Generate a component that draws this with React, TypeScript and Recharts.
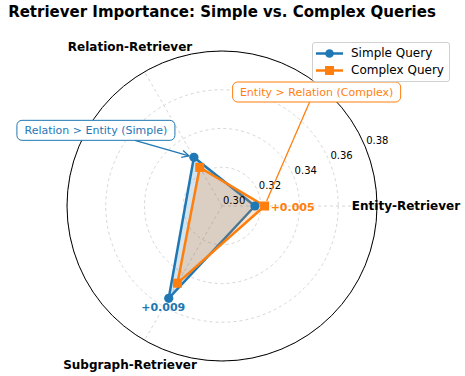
import React from 'react';
import {
  Legend,
  PolarAngleAxis,
  PolarGrid,
  PolarRadiusAxis,
  Radar,
  RadarChart,
} from 'recharts';

// listed in drawing order: Entity at 0°, then Subgraph, then Relation (clockwise)
const categories = ['Entity-Retriever', 'Subgraph-Retriever', 'Relation-Retriever'];
const simpleQuery = [0.317, 0.355, 0.329];
const complexQuery = [0.322, 0.346, 0.323];
const radiusTicks = [0.3, 0.32, 0.34, 0.36, 0.38];
const seriesNames = ['Simple Query', 'Complex Query'];

const BLUE = '#1f77b4';
const ORANGE = '#ff7f0e';
const FONT = '"DejaVu Sans", sans-serif';

// radius axis starts at 0.30 -> plot the amount above that baseline
const BASE = radiusTicks[0];
const data = categories.map((category, i) => ({
  category,
  simple: simpleQuery[i] - BASE,
  complex: complexQuery[i] - BASE,
}));

const idx = (name: string) => categories.indexOf(name);

// small arrowhead pointing from (x1,y1) to (x2,y2)
const arrowHead = (x1: number, y1: number, x2: number, y2: number, color: string) => {
  const a = Math.atan2(y2 - y1, x2 - x1);
  const len = 7;
  const w = 3.5;
  const bx = x2 - len * Math.cos(a);
  const by = y2 - len * Math.sin(a);
  const px = -Math.sin(a) * w;
  const py = Math.cos(a) * w;
  return (
    <polyline
      points={`${bx + px},${by + py} ${x2},${y2} ${bx - px},${by - py}`}
      fill="none"
      stroke={color}
      strokeWidth={1.3}
    />
  );
};

const SimpleDot = (props: any) => {
  const { cx, cy, index } = props;
  const name = categories[index];
  const sg = idx('Subgraph-Retriever');
  return (
    <g key={`simple-${index}`}>
      <circle cx={cx} cy={cy} r={4.6} fill={BLUE} />
      {name === 'Relation-Retriever' && (
        <g>
          <line x1={cx - 59} y1={cy - 17} x2={cx - 5} y2={cy - 1.5} stroke={BLUE} strokeWidth={1.3} />
          {arrowHead(cx - 59, cy - 17, cx - 5, cy - 1.5, BLUE)}
          <rect x={cx - 177} y={cy - 37} width={158} height={20} rx={5} fill="#fff" stroke={BLUE} strokeWidth={1} />
          <text
            x={cx - 98}
            y={cy - 27}
            textAnchor="middle"
            dominantBaseline="central"
            fontSize={11}
            fontFamily={FONT}
            fill={BLUE}
          >
            Relation &gt; Entity (Simple)
          </text>
        </g>
      )}
      {name === 'Subgraph-Retriever' && (
        <text
          x={cx - 5.5}
          y={cy + 9}
          textAnchor="middle"
          dominantBaseline="central"
          fontSize={11}
          fontWeight="bold"
          fontFamily={FONT}
          fill={BLUE}
        >
          +{(simpleQuery[sg] - complexQuery[sg]).toFixed(3)}
        </text>
      )}
    </g>
  );
};

const ComplexDot = (props: any) => {
  const { cx, cy, index } = props;
  const name = categories[index];
  const en = idx('Entity-Retriever');
  return (
    <g key={`complex-${index}`}>
      {name === 'Entity-Retriever' && (
        <g>
          <line x1={cx + 45} y1={cy - 104} x2={cx + 2} y2={cy - 5} stroke={ORANGE} strokeWidth={1.3} />
          <rect x={cx - 32} y={cy - 124} width={168} height={20} rx={5} fill="#fff" stroke={ORANGE} strokeWidth={1} />
          <text
            x={cx + 52}
            y={cy - 114}
            textAnchor="middle"
            dominantBaseline="central"
            fontSize={11}
            fontFamily={FONT}
            fill={ORANGE}
          >
            Entity &gt; Relation (Complex)
          </text>
        </g>
      )}
      <rect x={cx - 4.5} y={cy - 4.5} width={9} height={9} fill={ORANGE} />
      {name === 'Entity-Retriever' && (
        <text
          x={cx + 6}
          y={cy + 1}
          textAnchor="start"
          dominantBaseline="central"
          fontSize={11}
          fontWeight="bold"
          fontFamily={FONT}
          fill={ORANGE}
        >
          +{(complexQuery[en] - simpleQuery[en]).toFixed(3)}
        </text>
      )}
    </g>
  );
};

const AngleTick = (props: any) => {
  const { x, y, payload } = props;
  const cx = props.cx ?? 222;
  const cy = props.cy ?? 206;
  const dx = x - cx;
  const dy = y - cy;
  const d = Math.sqrt(dx * dx + dy * dy) || 1;
  const r = 184;
  return (
    <text
      x={cx + (dx / d) * r}
      y={cy + (dy / d) * r}
      textAnchor="middle"
      dominantBaseline="central"
      fontSize={12}
      fontWeight="bold"
      fontFamily={FONT}
      fill="#000"
    >
      {payload.value}
    </text>
  );
};

const RadiusTick = (props: any) => {
  const { x, y, payload } = props;
  return (
    <text
      x={x + 1}
      y={y - 6}
      textAnchor="start"
      dominantBaseline="central"
      fontSize={10}
      fontFamily={FONT}
      fill="#000"
    >
      {(Number(payload.value) + BASE).toFixed(2)}
    </text>
  );
};

const LegendBox = () => (
  <div
    style={{
      display: 'inline-block',
      border: '1px solid #d0d0d0',
      borderRadius: 3,
      background: 'rgba(255,255,255,0.8)',
      padding: '2px 5px 2px 3px',
      fontFamily: FONT,
      fontSize: 12,
      color: '#000',
      lineHeight: '17px',
      whiteSpace: 'nowrap',
    }}
  >
    {seriesNames.map((name, i) => (
      <div key={name} style={{ display: 'flex', alignItems: 'center' }}>
        <svg width={30} height={17}>
          <line x1={0} y1={8.5} x2={27} y2={8.5} stroke={i === 0 ? BLUE : ORANGE} strokeWidth={2.5} />
          {i === 0 ? (
            <circle cx={13.5} cy={8.5} r={4.3} fill={BLUE} />
          ) : (
            <rect x={9} y={4} width={9} height={9} fill={ORANGE} />
          )}
        </svg>
        <span style={{ marginLeft: 5 }}>{name}</span>
      </div>
    ))}
  </div>
);

const App: React.FC = () => {
  return (
    <div style={{ position: 'absolute', left: 0, top: 0, width: 465, height: 376, background: '#fff' }}>
      <div
        style={{
          position: 'absolute',
          left: 0,
          width: 444,
          top: 3,
          textAlign: 'center',
          fontFamily: FONT,
          fontWeight: 'bold',
          fontSize: 15,
          lineHeight: '18px',
          color: '#000',
          zIndex: 2,
        }}
      >
        Retriever Importance: Simple vs. Complex Queries
      </div>
      <RadarChart
        width={465}
        height={376}
        data={data}
        cx={222}
        cy={206}
        outerRadius={155}
        startAngle={360}
        endAngle={0}
        margin={{ top: 0, right: 0, bottom: 0, left: 0 }}
      >
        <PolarGrid gridType="circle" stroke="#cccccc" strokeDasharray="3 3" strokeWidth={0.8} />
        <PolarAngleAxis
          dataKey="category"
          axisLineType="circle"
          axisLine={{ stroke: '#000', strokeWidth: 1 }}
          tickLine={false}
          tick={AngleTick}
        />
        <Radar
          name={seriesNames[0]}
          dataKey="simple"
          stroke={BLUE}
          strokeWidth={2.5}
          fill={BLUE}
          fillOpacity={0.2}
          dot={SimpleDot}
          isAnimationActive={false}
        />
        <Radar
          name={seriesNames[1]}
          dataKey="complex"
          stroke={ORANGE}
          strokeWidth={2.5}
          fill={ORANGE}
          fillOpacity={0.2}
          dot={ComplexDot}
          isAnimationActive={false}
        />
        <PolarRadiusAxis
          type="number"
          angle={22.5}
          domain={[0, radiusTicks[radiusTicks.length - 1] - BASE]}
          ticks={radiusTicks.map((t) => t - BASE) as any}
          tickCount={radiusTicks.length}
          axisLine={false}
          tickLine={false}
          tick={RadiusTick}
        />
        <Legend
          content={LegendBox}
          wrapperStyle={{ position: 'absolute', top: 42, left: 312, right: 'auto', width: 'auto' }}
        />
      </RadarChart>
    </div>
  );
};

export default App;
